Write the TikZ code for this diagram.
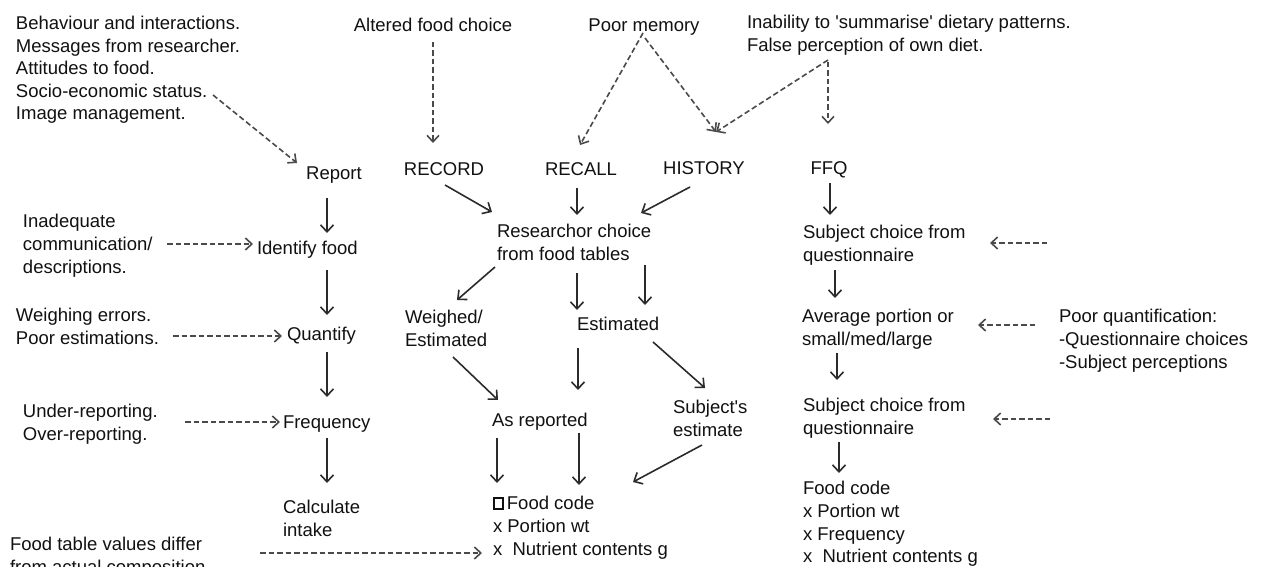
\documentclass[tikz,border=0pt]{standalone}
\usepackage{fontspec}
\setmainfont{Liberation Sans}
\usetikzlibrary{arrows.meta,calc}
\definecolor{ink}{HTML}{111111}
\definecolor{arrowink}{HTML}{2B2B2B}
\definecolor{dashink}{HTML}{4A4A4A}
\newcommand{\sq}{\tikz[baseline=0pt]\draw[line width=1.7pt] (0.85pt,0.85pt) rectangle (10pt,12pt);}
\newcommand{\q}{\textquotesingle}
\begin{document}
\begin{tikzpicture}[x=1pt,y=-1pt,
  txt/.style={inner sep=0pt,outer sep=0pt,align=left,text=ink,
    font=\fontsize{18.5}{22.6}\selectfont},
  nw/.style={txt,anchor=north west},
  nc/.style={txt,anchor=north},
  arr/.style={draw=arrowink,line width=1.6pt,-{Straight Barb[length=7pt,width=13pt]}},
  darr/.style={draw=dashink,line width=1.6pt,dash pattern=on 5.5pt off 3pt,-{Straight Barb[length=6.5pt,width=12pt]}}]
\fill[white] (0,0) rectangle (1261,567);
\useasboundingbox (0,0) rectangle (1261,567);

% top texts
\node[nw] (beh) at (16,16) {Behaviour and interactions.\\Messages from researcher.\\Attitudes to food.\\Socio-economic status.\\Image management.};
\node[nc] (altered) at (433,18.4) {Altered food choice};
\node[nc] (poormem) at (644,18.4) {Poor memory};
\node[nw] (inab) at (747,15.4) {Inability to \q summarise\q{} dietary patterns.\\False perception of own diet.};

% methods
\node[nc] (report) at (334,166.4) {Report};
\node[nc] (record) at (444,162.4) {RECORD};
\node[nc] (recall) at (581,162.4) {RECALL};
\node[nc] (history) at (704,161.4) {HISTORY};
\node[nc] (ffq) at (829,161.4) {FFQ};

% left column
\node[nw] (inad) at (23,214.4) {Inadequate\\communication/\\descriptions.};
\node[nw] (ident) at (257,241.4) {Identify food};
\node[nw] (weigh) at (16,308.4) {Weighing errors.\\Poor estimations.};
\node[nw] (quant) at (287,327.4) {Quantify};
\node[nw] (under) at (23,404.4) {Under-reporting.\\Over-reporting.};
\node[nw] (freq) at (283,415.4) {Frequency};
\node[nw] (calc) at (283,500.4) {Calculate\\intake};
\node[nw] (foodtab) at (10,537.4) {Food table values differ\\from actual composition};

% middle
\node[nw] (research) at (497,224.4) {Researchor choice\\from food tables};
\node[nw] (weighed) at (405,310.4) {Weighed/\\Estimated};
\node[nw] (estim) at (577,317.4) {Estimated};
\node[nw] (asrep) at (492,413.4) {As reported};
\node[nw] (subj) at (673,400.4) {Subject\q s\\estimate};
\node[nw] (fc) at (493,496.4) {\sq\,Food code\\x Portion wt\\x\ \ Nutrient contents g};

% right column
\node[nw] (sc1) at (803,225.4) {Subject choice from\\questionnaire};
\node[nw] (avg) at (802,309.4) {Average portion or\\small/med/large};
\node[nw] (sc2) at (803,398.4) {Subject choice from\\questionnaire};
\node[nw] (fc2) at (803,481.4) {Food code\\x Portion wt\\x Frequency\\x\ \ Nutrient contents g};
\node[nw] (poorq) at (1059,309.4) {Poor quantification:\\-Questionnaire choices\\-Subject perceptions};

% solid arrows
\draw[arr] ($(report.north)+(-7,31.6)$) -- ($(ident.north west)+(70,-8.4)$);
\draw[arr] ($(ident.north west)+(70,28.6)$) -- ($(quant.north west)+(40,-12.4)$);
\draw[arr] ($(quant.north west)+(40,24.6)$) -- ($(freq.north west)+(44,-18.4)$);
\draw[arr] ($(freq.north west)+(44,22.6)$) -- ($(calc.north west)+(44,-17.4)$);
\draw[arr] ($(record.north)+(1,22.6)$) -- ($(research.north west)+(-5,-12.4)$);
\draw[arr] ($(recall.north)+(-4,25.6)$) -- ($(research.north west)+(80,-9.4)$);
\draw[arr] ($(history.north)+(-14,25.6)$) -- ($(research.north west)+(144,-11.4)$);
\draw[arr] ($(ffq.north)+(1,21.6)$) -- ($(sc1.north west)+(27,-10.4)$);
\draw[arr] ($(research.north west)+(-2,42.6)$) -- ($(weighed.north west)+(52,-10.4)$);
\draw[arr] ($(research.north west)+(80,48.6)$) -- ($(estim.north west)+(0,-7.4)$);
\draw[arr] ($(research.north west)+(148,40.6)$) -- ($(estim.north west)+(68,-12.4)$);
\draw[arr] ($(weighed.north west)+(48,46.6)$) -- ($(asrep.north west)+(6,-13.4)$);
\draw[arr] ($(estim.north west)+(1,30.6)$) -- ($(asrep.north west)+(86,-23.4)$);
\draw[arr] ($(estim.north west)+(76,24.6)$) -- ($(subj.north west)+(32,-12.4)$);
\draw[arr] ($(asrep.north west)+(5,24.6)$) -- ($(fc.north west)+(4,-13.4)$);
\draw[arr] ($(asrep.north west)+(87,19.6)$) -- ($(fc.north west)+(86,-11.4)$);
\draw[arr] ($(subj.north west)+(29,44.6)$) -- ($(fc.north west)+(140,-14.4)$);
\draw[arr] ($(sc1.north west)+(32,44.6)$) -- ($(avg.north west)+(33,-11.4)$);
\draw[arr] ($(avg.north west)+(35,43.6)$) -- ($(sc2.north west)+(34,-18.4)$);
\draw[arr] ($(sc2.north west)+(36,43.6)$) -- ($(fc2.north west)+(36,-8.4)$);

% dashed arrows
\draw[darr] ($(beh.north west)+(197,79)$) -- ($(report.north)+(-37,-3.4)$);
\draw[darr] ($(altered.north)+(0,23.6)$) -- ($(record.north)+(-11,-19.4)$);
\draw[darr] ($(poormem.north)+(-1,14.6)$) -- ($(recall.north)+(-1,-17.4)$);
\draw[darr] ($(poormem.north)+(1,19.6)$) -- ($(history.north)+(12,-29.4)$);
\draw[darr] ($(inab.north west)+(81,44.6)$) -- ($(history.north)+(12,-29.4)$);
\draw[darr] ($(inab.north west)+(81,46.6)$) -- ($(ffq.north)+(-1,-37.4)$);
\draw[darr] ($(inad.north west)+(144,29.6)$) -- ($(ident.north west)+(-4,2.6)$);
\draw[darr] ($(weigh.north west)+(157,27.6)$) -- ($(quant.north west)+(-5,8.6)$);
\draw[darr] ($(under.north west)+(162,17.6)$) -- ($(freq.north west)+(-3,6.6)$);
\draw[darr] ($(foodtab.north west)+(250,15.6)$) -- ($(fc.north west)+(-11,56.6)$);
\draw[darr] ($(poorq.north west)+(-12,-66.4)$) -- ($(sc1.north west)+(187,17.6)$);
\draw[darr] ($(poorq.north west)+(-24,15.6)$) -- ($(avg.north west)+(176,15.6)$);
\draw[darr] ($(poorq.north west)+(-9,109.6)$) -- ($(sc2.north west)+(190,20.6)$);
\end{tikzpicture}
\end{document}
